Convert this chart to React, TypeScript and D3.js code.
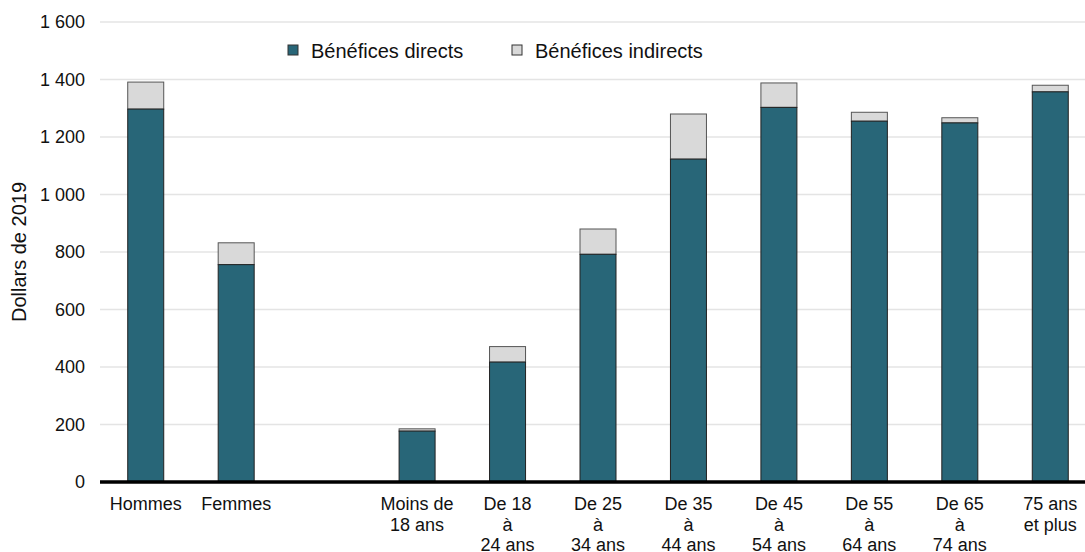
import React from "react";
import * as d3 from "d3";

const categories: string[][] = [
  ["Hommes"],
  ["Femmes"],
  [],
  ["Moins de", "18 ans"],
  ["De 18", "à", "24 ans"],
  ["De 25", "à", "34 ans"],
  ["De 35", "à", "44 ans"],
  ["De 45", "à", "54 ans"],
  ["De 55", "à", "64 ans"],
  ["De 65", "à", "74 ans"],
  ["75 ans", "et plus"],
];
const directs: (number | null)[] = [1297, 756, null, 177, 417, 792, 1123, 1303, 1255, 1249, 1357];
const indirects: (number | null)[] = [94, 76, null, 8, 54, 88, 157, 85, 31, 18, 23];
const yTicks = [0, 200, 400, 600, 800, 1000, 1200, 1400, 1600];
const seriesNames = ["Bénéfices directs", "Bénéfices indirects"];
const colors = ["#286678", "#d9d9d9"];

const W = 1085;
const H = 552;
const FONT = "'Liberation Sans', Arial, sans-serif";

export default function App() {
  const x = d3
    .scaleBand<number>()
    .domain(categories.map((_, i) => i))
    .range([100.5, 1095.5])
    .paddingInner(0.602)
    .paddingOuter(0.301);
  const y = d3.scaleLinear().domain([0, 1600]).range([482, 22]);
  const fmt = (v: number) => d3.format(",")(v).replace(/,/g, " ");
  const bw = x.bandwidth();

  return (
    <svg
      width={W}
      height={H}
      style={{ position: "absolute", left: 0, top: 0, fontFamily: FONT }}
    >
      <rect x={0} y={0} width={W} height={H} fill="#fff" />
      {yTicks.map((t) => (
        <g key={t}>
          {t > 0 && (
            <line x1={100} x2={W} y1={y(t)} y2={y(t)} stroke="#e4e4e4" strokeWidth={1.5} />
          )}
          <text x={85} y={y(t)} dy="0.35em" textAnchor="end" fontSize={18} fill="#111">
            {fmt(t)}
          </text>
        </g>
      ))}
      <text
        transform={`translate(26,${(y(0) + y(1600)) / 2}) rotate(-90)`}
        textAnchor="middle"
        fontSize={20}
        fill="#111"
      >
        Dollars de 2019
      </text>
      {categories.map((c, i) => {
        const d = directs[i];
        const ind = indirects[i];
        if (d == null || ind == null) return null;
        const x0 = x(i)!;
        return (
          <g key={i}>
            <rect
              x={x0}
              y={y(d + ind)}
              width={bw}
              height={y(d) - y(d + ind)}
              fill={colors[1]}
              stroke="#555"
              strokeWidth={1}
            />
            <rect
              x={x0}
              y={y(d)}
              width={bw}
              height={y(0) - y(d)}
              fill={colors[0]}
              stroke="#222"
              strokeWidth={1}
            />
          </g>
        );
      })}
      <line x1={100} x2={W} y1={y(0)} y2={y(0)} stroke="#000" strokeWidth={3.5} />
      {categories.map((c, i) => (
        <text key={i} textAnchor="middle" fontSize={18} fill="#111">
          {c.map((line, j) => (
            <tspan key={j} x={x(i)! + bw / 2} y={510 + j * 20.5}>
              {line}
            </tspan>
          ))}
        </text>
      ))}
      {seriesNames.map((s, i) => {
        const lx = i === 0 ? 288 : 512;
        return (
          <g key={s}>
            <rect x={lx} y={45} width={10} height={10} fill={colors[i]} stroke="#333" strokeWidth={1} />
            <text x={lx + 23} y={57.5} fontSize={20} fill="#111">
              {s}
            </text>
          </g>
        );
      })}
    </svg>
  );
}
